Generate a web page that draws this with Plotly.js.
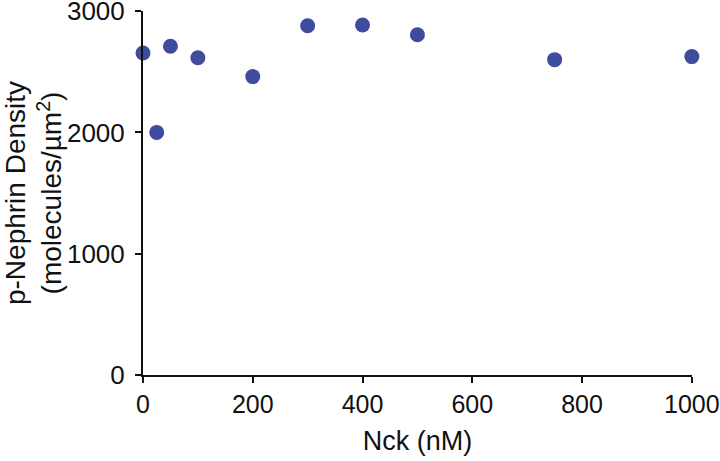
<!DOCTYPE html>
<html>
<head>
<meta charset="utf-8">
<script src="https://cdn.plot.ly/plotly-3.0.1.min.js"></script>
<style>
  html, body { margin: 0; padding: 0; background: #fff; }
  #chart1 { width: 720px; height: 461px; }
</style>
</head>
<body>
<div id="chart1"></div>
<script>
// Nck concentration (nM) vs p-Nephrin density (molecules/um^2)
var nck_nM = [0, 25, 50, 100, 200, 300, 400, 500, 750, 1000];
var nephrin_density = [2655, 2000, 2710, 2615, 2460, 2880, 2885, 2805, 2600, 2625];

var xTicks = [0, 200, 400, 600, 800, 1000];
var yTicks = [0, 1000, 2000, 3000];

var fontFamily = 'Liberation Sans, Arial, sans-serif';

function makeFont(size) {
    return { family: fontFamily, size: size, color: '#111' };
}

var points = {
    x: nck_nM,
    y: nephrin_density,
    mode: 'markers',
    type: 'scatter',
    marker: {
        size: 15,
        color: '#3f4b9c'
    },
    cliponaxis: false,
    showlegend: false
};

var layout = {
    width: 720,
    height: 461,
    margin: { l: 143, r: 28, t: 11, b: 86 },
    paper_bgcolor: '#fff',
    plot_bgcolor: '#fff',
    font: makeFont(25),
    xaxis: {
        range: [0, 1000.3],
        tickvals: xTicks,
        ticks: 'outside',
        ticklen: 6,
        tickwidth: 2,
        tickcolor: '#111',
        ticklabeloverflow: 'allow',
        showline: true,
        linewidth: 2,
        linecolor: '#111',
        showgrid: false,
        zeroline: false,
        tickfont: makeFont(25),
        title: { text: 'Nck (nM)', font: makeFont(27), standoff: 14 }
    },
    yaxis: {
        range: [0, 3001],
        tickvals: yTicks,
        ticks: 'outside',
        ticklen: 6,
        tickwidth: 2,
        tickcolor: '#111',
        ticklabeloverflow: 'allow',
        ticklabelstandoff: 5,
        showline: true,
        linewidth: 2,
        linecolor: '#111',
        showgrid: false,
        zeroline: false,
        tickfont: makeFont(26),
        title: {
            text: 'p-Nephrin Density<br>(molecules/µm<sup>2</sup>)',
            font: makeFont(28),
            standoff: 6
        }
    }
};

Plotly.newPlot('chart1', [points], layout, { staticPlot: true });
</script>
</body>
</html>
